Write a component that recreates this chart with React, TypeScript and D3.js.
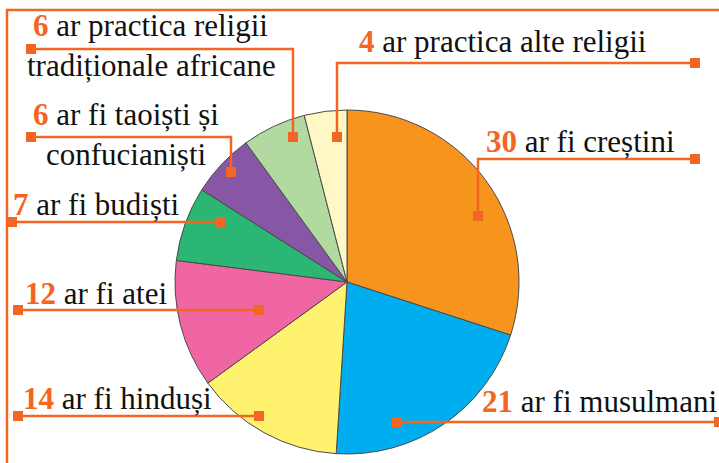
import React from 'react';
import * as d3 from 'd3';

// data (clockwise from 12 o'clock)
const religions = ['creștini', 'musulmani', 'hinduși', 'atei', 'budiști', 'taoiști și confucianiști', 'religii tradiționale africane', 'alte religii'];
const counts = [30, 21, 14, 12, 7, 6, 6, 4];
const palette = ['#F7941E', '#00AEEF', '#FFF26E', '#EF66A3', '#2BB673', '#8757A5', '#B2DAA0', '#FFF8C6'];

// label text, one entry per slice, split into lines (first line gets the number)
const labelLines = [
    ['ar fi creștini'],
    ['ar fi musulmani'],
    ['ar fi hinduși'],
    ['ar fi atei'],
    ['ar fi budiști'],
    ['ar fi taoiști și', 'confucianiști'],
    ['ar practica religii', 'tradiționale africane'],
    ['ar practica alte religii'],
];

// annotation layout: where the text sits and how the leader runs
const labelLayout = [
    { tx: 486, ty: 152, lines: [[695, 159], [478, 159], [478, 216]] },
    { tx: 482, ty: 412, lines: [[397, 422], [719, 422]] },
    { tx: 23, ty: 409, lines: [[18, 416], [259, 416]] },
    { tx: 25, ty: 304, lines: [[18, 310], [259, 310]] },
    { tx: 13, ty: 215, lines: [[12, 222], [220, 222]] },
    { tx: 33, ty: 125, lines: [[31, 137], [231, 137], [231, 172]], sub: [46, 165] },
    { tx: 33, ty: 36, lines: [[31, 49], [293, 49], [293, 137]], sub: [27, 76] },
    { tx: 359, ty: 52, lines: [[695, 63], [337, 63], [337, 137]] },
];

const W = 719, H = 463;
const cx = 347, cy = 282, radius = 172;
const accent = '#F26522';
const fontFamily = "'Liberation Serif', 'DejaVu Serif', serif";
const fontSize = '31px';

export default function App() {
    const ref = React.useRef<SVGSVGElement>(null);

    React.useEffect(() => {
        const svg = d3.select(ref.current);
        svg.selectAll('*').remove();

        const pie = d3.pie<number>().sort(null).value(d => d);
        const arc = d3.arc<d3.PieArcDatum<number>>().innerRadius(0).outerRadius(radius);

        const g = svg.append('g').attr('transform', `translate(${cx},${cy})`);
        g.selectAll('path')
            .data(pie(counts))
            .enter()
            .append('path')
            .attr('d', arc)
            .attr('fill', (d, i) => palette[i])
            .attr('stroke', '#4a4a4a')
            .attr('stroke-width', 1);

        // frame bracket
        svg.append('path')
            .attr('d', d3.line()([[W, 10], [7, 10], [7, H]]))
            .attr('fill', 'none')
            .attr('stroke', accent)
            .attr('stroke-width', 2.5);

        const line = d3.line();
        labelLayout.forEach((lay, i) => {
            svg.append('path')
                .attr('d', line(lay.lines as [number, number][]))
                .attr('fill', 'none')
                .attr('stroke', accent)
                .attr('stroke-width', 2.5);
            const ends = [lay.lines[0], lay.lines[lay.lines.length - 1]];
            ends.forEach(p => {
                svg.append('rect')
                    .attr('x', p[0] - 5)
                    .attr('y', p[1] - 5)
                    .attr('width', 10)
                    .attr('height', 10)
                    .attr('fill', accent);
            });

            const t = svg.append('text')
                .attr('x', lay.tx)
                .attr('y', lay.ty)
                .style('font-family', fontFamily)
                .style('font-size', fontSize)
                .attr('fill', '#111');
            t.append('tspan')
                .attr('font-weight', 'bold')
                .attr('fill', accent)
                .text(counts[i]);
            t.append('tspan').text(' ' + labelLines[i][0]);

            if (labelLines[i].length > 1 && lay.sub) {
                svg.append('text')
                    .attr('x', lay.sub[0])
                    .attr('y', lay.sub[1])
                    .style('font-family', fontFamily)
                    .style('font-size', fontSize)
                    .attr('fill', '#111')
                    .text(labelLines[i][1]);
            }
        });
    }, []);

    return (
        <svg ref={ref} width={W} height={H}
            style={{ position: 'absolute', left: 0, top: 0, background: '#fff' }} />
    );
}
